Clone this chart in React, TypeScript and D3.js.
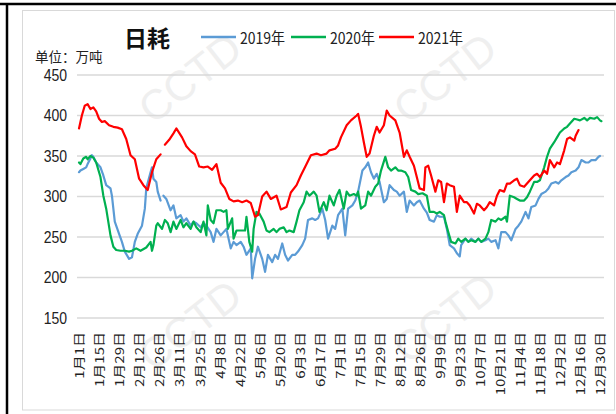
import React from "react";
import * as d3 from "d3";

const W = 616;
const H = 414;

const xTickLabels = [
  "1月1日", "1月15日", "1月29日", "2月12日", "2月26日", "3月11日", "3月25日",
  "4月8日", "4月22日", "5月6日", "5月20日", "6月3日", "6月17日", "7月1日",
  "7月15日", "7月29日", "8月12日", "8月26日", "9月9日", "9月23日", "10月7日",
  "10月21日", "11月4日", "11月18日", "12月2日", "12月16日", "12月30日",
];
const yTicks = [150, 200, 250, 300, 350, 400, 450];

const seriesNames = ["2019年", "2020年", "2021年"];
const seriesColors = ["#5b9bd5", "#00b050", "#ff0000"];

// [day of year (0 = 1月1日), value]; null = no data
const data2019: [number, number | null][] = [
  [0,330],[1,332],[3,334],[5,336],[6,340],[8,347],[9,351],[10,349],[12,342],[15,336],[17,326],[19,314],[22,310],[23,301],[25,269],[28,254],[30,244],[32,232],[35,223],[37,225],[39,244],[41,254],[44,264],[46,285],[47,310],[50,330],[51,336],[52,322],[54,318],[55,306],[57,295],[58,null],[59,301],[61,297],[64,283],[66,289],[68,273],[71,277],[73,269],[75,273],[78,264],[80,269],[82,267],[85,262],[87,267],[89,264],[92,256],[94,244],[96,260],[99,252],[101,256],[103,260],[106,236],[108,244],[110,240],[113,244],[115,238],[117,228],[120,236],[121,199],[123,223],[125,238],[128,223],[130,207],[132,228],[135,219],[137,228],[139,223],[142,242],[144,228],[146,221],[149,228],[151,228],[153,232],[156,240],[158,248],[160,271],[163,273],[165,271],[167,273],[170,285],[172,271],[174,248],[177,264],[179,260],[181,277],[184,285],[186,252],[188,285],[191,289],[193,295],[195,306],[198,332],[200,336],[202,342],[204,330],[206,322],[208,328],[210,318],[213,293],[215,297],[217,314],[220,308],[222,306],[224,301],[227,306],[229,281],[231,295],[234,289],[236,293],[238,295],[241,285],[243,280],[245,271],[248,269],[250,277],[252,275],[255,275],[257,260],[259,240],[262,236],[264,230],[266,226],[267,240],[270,248],[272,244],[274,248],[277,244],[279,248],[281,244],[284,246],[286,248],[288,244],[291,246],[293,236],[295,256],[298,256],[300,252],[302,246],[305,260],[307,264],[309,269],[312,281],[314,273],[316,287],[319,289],[321,297],[323,303],[326,306],[328,310],[330,316],[333,318],[335,316],[337,320],[340,324],[342,326],[344,330],[347,332],[349,336],[351,345],[354,342],[356,342],[358,345],[361,345],[363,349],[364,350],
];

const data2020: [number, number | null][] = [
  [0,342],[1,340],[3,347],[5,349],[6,346],[8,350],[10,348],[12,342],[15,324],[17,301],[19,285],[22,252],[24,238],[26,234],[29,233],[32,233],[35,232],[37,233],[40,236],[43,233],[47,237],[50,244],[51,233],[52,240],[54,264],[55,267],[58,260],[60,271],[62,267],[64,256],[66,269],[68,260],[71,271],[73,262],[75,267],[78,260],[80,269],[82,262],[85,256],[87,269],[89,252],[90,289],[92,271],[94,267],[96,283],[99,283],[101,281],[103,283],[104,260],[107,273],[108,248],[110,258],[113,258],[116,258],[117,275],[119,244],[121,232],[122,260],[124,281],[126,279],[129,269],[131,258],[133,256],[136,260],[138,256],[140,260],[143,262],[145,256],[147,258],[150,256],[152,269],[154,283],[157,293],[159,306],[161,301],[164,306],[166,301],[168,281],[171,293],[173,283],[175,301],[178,289],[180,301],[182,308],[185,285],[187,306],[189,301],[192,303],[194,301],[195,306],[197,285],[200,289],[202,306],[204,301],[207,312],[209,316],[211,332],[214,349],[216,336],[218,332],[221,336],[223,332],[225,332],[228,330],[230,324],[232,308],[235,306],[237,303],[240,304],[243,301],[245,281],[248,281],[250,279],[252,281],[255,277],[256,269],[258,256],[260,244],[263,242],[265,248],[267,244],[270,248],[272,244],[274,246],[277,244],[279,248],[281,244],[284,248],[286,256],[288,271],[291,269],[293,273],[295,271],[298,275],[299,269],[300,285],[301,301],[304,299],[306,297],[308,295],[311,295],[313,299],[315,306],[318,318],[320,318],[322,320],[325,336],[327,349],[329,359],[332,367],[334,373],[336,379],[339,384],[341,386],[343,390],[346,396],[348,395],[350,394],[353,397],[355,394],[357,397],[360,396],[362,398],[364,394],[365,393],
];

const data2021: [number, number | null][] = [
  [0,384],[2,400],[4,412],[6,414],[8,408],[10,410],[12,405],[14,396],[16,392],[18,393],[21,388],[24,386],[27,385],[30,383],[33,371],[36,351],[39,346],[42,322],[45,314],[48,308],[51,330],[54,346],[57,352],[58,null],[60,364],[63,370],[66,378],[68,384],[72,373],[75,362],[78,356],[81,352],[84,337],[87,336],[90,337],[93,333],[96,340],[99,317],[102,310],[105,297],[108,294],[111,295],[114,293],[117,295],[120,292],[123,275],[125,277],[128,300],[131,306],[134,297],[138,301],[141,284],[145,287],[148,305],[152,314],[155,326],[159,340],[162,351],[166,353],[169,351],[173,353],[175,357],[179,359],[181,363],[183,373],[187,388],[190,394],[194,400],[195,402],[197,386],[199,367],[201,349],[203,353],[206,375],[208,386],[210,379],[213,388],[215,406],[217,400],[221,394],[224,379],[227,349],[229,357],[231,349],[234,338],[236,324],[238,310],[241,308],[242,336],[244,338],[246,326],[249,306],[251,320],[253,318],[255,293],[257,316],[259,314],[262,312],[264,281],[266,301],[269,293],[271,293],[273,289],[276,279],[278,291],[280,289],[283,283],[285,287],[287,293],[290,289],[292,301],[294,308],[297,306],[299,316],[301,316],[304,320],[306,322],[308,314],[311,312],[313,316],[315,320],[318,326],[320,328],[322,324],[325,332],[327,328],[329,345],[332,336],[334,342],[336,340],[339,357],[341,371],[343,373],[346,369],[347,375],[349,382],
];

const allSeries = [data2019, data2020, data2021];

const CJK = "'Noto Sans CJK SC', 'Noto Sans', sans-serif";
const NUM = "'Liberation Sans', Arial, sans-serif";

export default function App() {
  const x = d3.scaleLinear().domain([0, 364]).range([79, 600]);
  const y = d3.scaleLinear().domain([150, 450]).range([318, 75]);
  const line = d3
    .line<[number, number | null]>()
    .defined((d) => d[1] != null)
    .x((d) => x(d[0]))
    .y((d) => y(d[1] as number));

  const gridX0 = 77;
  const gridX1 = 604;

  const marks = [
    [190, 78],
    [445, 78],
    [190, 325],
    [445, 318],
  ];

  const legendX = [201, 291, 379];

  return (
    <svg
      width={W}
      height={H}
      style={{ position: "absolute", left: 0, top: 0, background: "#fff" }}
    >
      {/* outer frame */}
      <rect x={22.5} y={10.5} width={592} height={399.5} fill="#fff" stroke="#d9d9d9" strokeWidth={1} />
      <line x1={0} x2={W} y1={4} y2={4} stroke="#000" strokeWidth={2.5} />
      <line x1={7} x2={7} y1={4} y2={H} stroke="#000" strokeWidth={2.5} />

      {/* watermarks */}
      {marks.map(([mx, my], i) => (
        <text
          key={"wm" + i}
          transform={`translate(${mx},${my}) rotate(-38)`}
          textAnchor="middle"
          dominantBaseline="central"
          fontFamily="'Liberation Sans', sans-serif"
          fontSize={42}
          fill="#efefef"
        >
          CCTD
        </text>
      ))}

      {/* gridlines */}
      {yTicks.map((t) => (
        <line key={"g" + t} x1={gridX0} x2={gridX1} y1={y(t)} y2={y(t)} stroke="#d9d9d9" strokeWidth={1.3} />
      ))}

      {/* y labels */}
      {yTicks.map((t) => (
        <text
          key={"yl" + t}
          transform={`translate(67,${y(t) + 5.8}) scale(1,1.12)`}
          textAnchor="end"
          fontFamily={NUM}
          fontSize={14}
          fill="#222"
        >
          {t}
        </text>
      ))}

      {/* x labels */}
      {xTickLabels.map((lab, i) => (
        <text
          key={"xl" + i}
          transform={`translate(${x(i * 14)},332) rotate(-90) scale(1.25,1)`}
          textAnchor="end"
          dominantBaseline="central"
          fontFamily={CJK}
          fontSize={12}
          fill="#222"
        >
          {lab}
        </text>
      ))}

      {/* series */}
      {allSeries.map((s, i) => (
        <path
          key={"s" + i}
          d={line(s) || ""}
          fill="none"
          stroke={seriesColors[i]}
          strokeWidth={2.2}
          strokeLinejoin="round"
          strokeLinecap="round"
        />
      ))}

      {/* title */}
      <text
        transform="translate(124,47)"
        fontFamily={CJK}
        fontSize={23}
        fontWeight={700}
        fill="#111"
      >
        日耗
      </text>

      {/* unit */}
      <text
        transform="translate(35,62)"
        fontFamily={CJK}
        fontSize={13.5}
        fill="#222"
      >
        单位：万吨
      </text>

      {/* legend */}
      {seriesNames.map((n, i) => (
        <g key={"lg" + i}>
          <line x1={legendX[i]} x2={legendX[i] + 35} y1={37} y2={37} stroke={seriesColors[i]} strokeWidth={2.5} />
          <text
            transform={`translate(${legendX[i] + 39},37.5) scale(1,1.1)`}
            dominantBaseline="central"
            fontFamily={CJK}
            fontSize={14}
            fill="#222"
          >
            {n}
          </text>
        </g>
      ))}
    </svg>
  );
}
